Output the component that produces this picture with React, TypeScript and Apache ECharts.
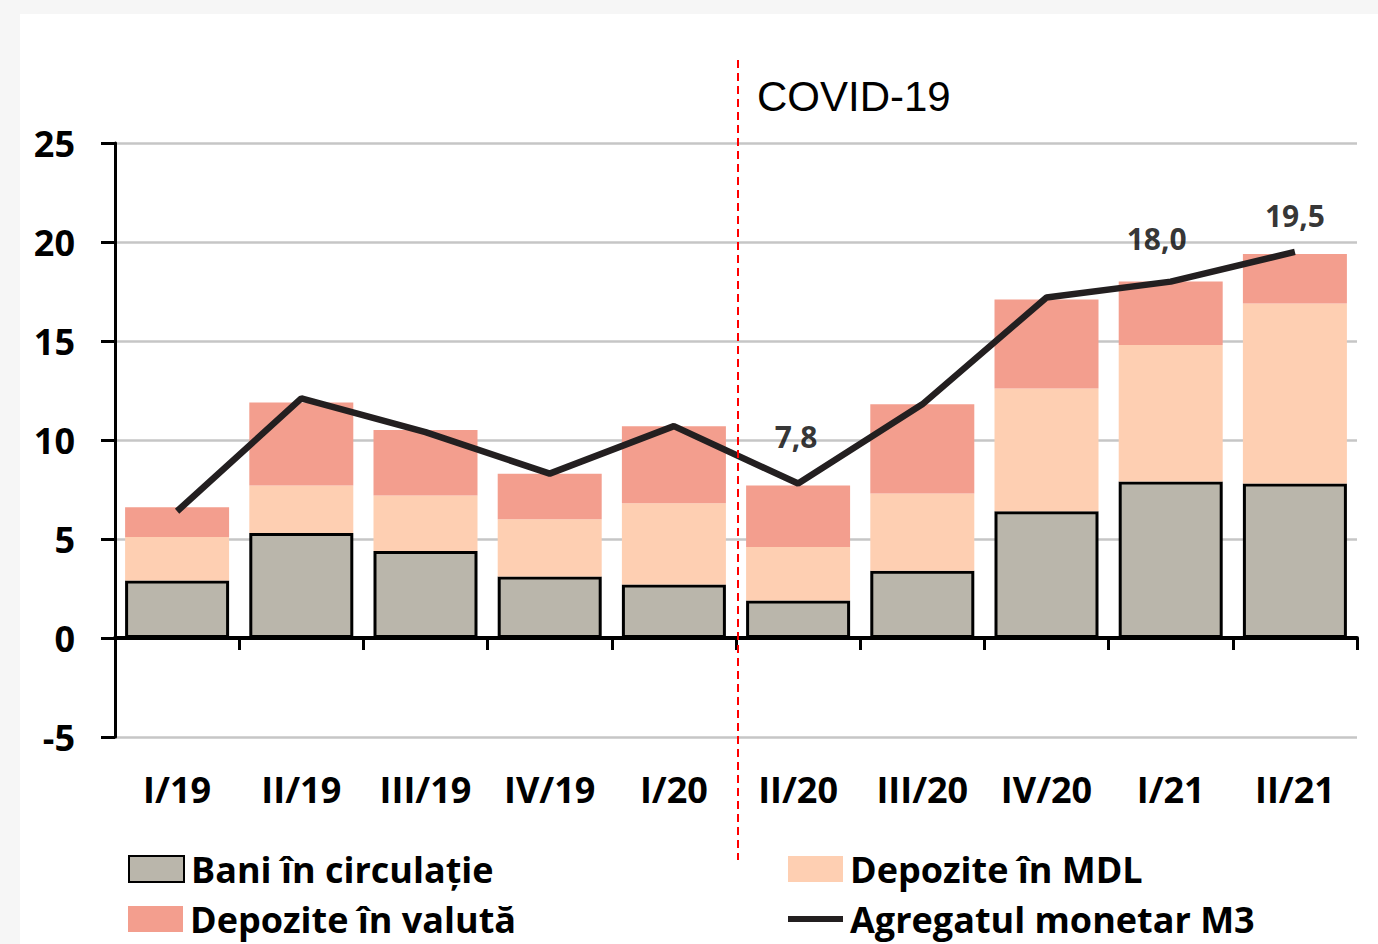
import React, { useEffect, useRef } from "react";
import * as echarts from "echarts";

const categories = ["I/19", "II/19", "III/19", "IV/19", "I/20", "II/20", "III/20", "IV/20", "I/21", "II/21"];
const bani = [2.9, 5.3, 4.4, 3.1, 2.7, 1.9, 3.4, 6.4, 7.9, 7.8];
const mdl = [2.2, 2.4, 2.8, 2.9, 4.1, 2.7, 3.9, 6.2, 6.9, 9.1];
const valuta = [1.5, 4.2, 3.3, 2.3, 3.9, 3.1, 4.5, 4.5, 3.2, 2.5];
const m3 = [6.4, 12.1, 10.4, 8.3, 10.7, 7.8, 11.8, 17.2, 18.0, 19.5];
const labeledCategories = ["II/20", "I/21", "II/21"];
const labelDistances = [32, 28, 21];
const labelShifts = [-2, -14, 0];

const NAMES = ["Bani în circulație", "Depozite în MDL", "Depozite în valută", "Agregatul monetar M3"];
const FONT = "'Open Sans', 'DejaVu Sans', sans-serif";

export default function App() {
  const ref = useRef<HTMLDivElement>(null);
  useEffect(() => {
    if (!ref.current) return;
    const chart = echarts.init(ref.current, null, { renderer: "svg" });
    const labelData = m3.map((v, i) => {
      const k = labeledCategories.indexOf(categories[i]);
      if (k < 0) return "-";
      return {
        value: v,
        label: {
          show: true,
          position: "top",
          distance: labelDistances[k],
          offset: [labelShifts[k], 0],
        },
      };
    });
    const legendText = { fontSize: 36, fontWeight: "bold", fontFamily: FONT, color: "#000", padding: [0, 0, 0, 2] };
    const mkLegend = (name: string, left: number, top: number, h: number, extra: any = {}) => ({
      left,
      top,
      padding: 0,
      orient: "vertical",
      itemWidth: 55,
      itemHeight: h,
      icon: "rect",
      textStyle: legendText,
      data: [name],
      ...extra,
    });
    chart.setOption({
      animation: false,
      backgroundColor: "#f6f6f6",
      grid: { left: 115, right: 21, top: 143, bottom: 207 },
      xAxis: {
        type: "category",
        data: categories,
        axisLine: { onZero: true, lineStyle: { color: "#000", width: 4 } },
        axisTick: { show: true, length: 12, lineStyle: { color: "#000", width: 3 } },
        axisLabel: { margin: 34, fontSize: 36, fontWeight: "bold", fontFamily: FONT, color: "#000" },
      },
      yAxis: {
        type: "value",
        min: -5,
        max: 25,
        interval: 5,
        axisLine: { show: true, lineStyle: { color: "#000", width: 3 } },
        axisTick: { show: true, length: 14, lineStyle: { color: "#000", width: 3 } },
        axisLabel: { margin: 40, fontSize: 36, fontWeight: "bold", fontFamily: FONT, color: "#000" },
        splitLine: { lineStyle: { color: "#c6c6c6", width: 2.5 } },
      },
      legend: [
        mkLegend(NAMES[0], 128, 851, 26),
        mkLegend(NAMES[2], 128, 901, 26),
        mkLegend(NAMES[1], 788, 851, 26),
        mkLegend(NAMES[3], 788, 901, 6, { itemStyle: { color: "#231f20" } }),
      ],
      series: [
        {
          name: NAMES[0],
          type: "bar",
          stack: "m",
          barWidth: 104,
          data: bani,
          itemStyle: { color: "#bab6ab", borderColor: "#000", borderWidth: 3 },
        },
        {
          name: NAMES[1],
          type: "bar",
          stack: "m",
          barWidth: 104,
          data: mdl,
          itemStyle: { color: "#fecfb2" },
        },
        {
          name: NAMES[2],
          type: "bar",
          stack: "m",
          barWidth: 104,
          data: valuta,
          itemStyle: { color: "#f39e8e" },
        },
        {
          name: NAMES[3],
          type: "line",
          data: m3,
          symbol: "none",
          lineStyle: { color: "#231f20", width: 6.5 },
          itemStyle: { color: "#231f20" },
          z: 5,
        },
        {
          name: "M3 labels",
          type: "scatter",
          data: labelData,
          symbolSize: 1,
          itemStyle: { color: "rgba(0,0,0,0)" },
          silent: true,
          z: 6,
          label: {
            show: true,
            position: "top",
            formatter: (p: any) => Number(p.value).toFixed(1).replace(".", ","),
            fontSize: 30,
            fontWeight: "bold",
            fontFamily: FONT,
            color: "#000",
          },
        },
      ],
    });
    const x4 = chart.convertToPixel({ xAxisIndex: 0 }, categories[4]) as number;
    const x5 = chart.convertToPixel({ xAxisIndex: 0 }, categories[5]) as number;
    const xc = (x4 + x5) / 2 + 2;
    chart.setOption({
      graphic: [
        {
          type: "rect",
          z: -10,
          silent: true,
          shape: { x: 20, y: 14, width: 1378, height: 944 },
          style: { fill: "#fff" },
        },
        {
          type: "line",
          z: 10,
          shape: { x1: xc, y1: 60, x2: xc, y2: 860 },
          style: { stroke: "#ff0000", lineWidth: 2, lineDash: [8, 5] },
        },
        {
          type: "text",
          z: 10,
          x: 757,
          y: 96,
          style: {
            text: "COVID-19",
            font: "42px 'Liberation Sans', Arial, sans-serif",
            fill: "#000",
            verticalAlign: "middle",
          },
        },
      ],
    });
    return () => chart.dispose();
  }, []);
  return <div ref={ref} style={{ position: "absolute", left: 0, top: 0, width: 1378, height: 944 }} />;
}
